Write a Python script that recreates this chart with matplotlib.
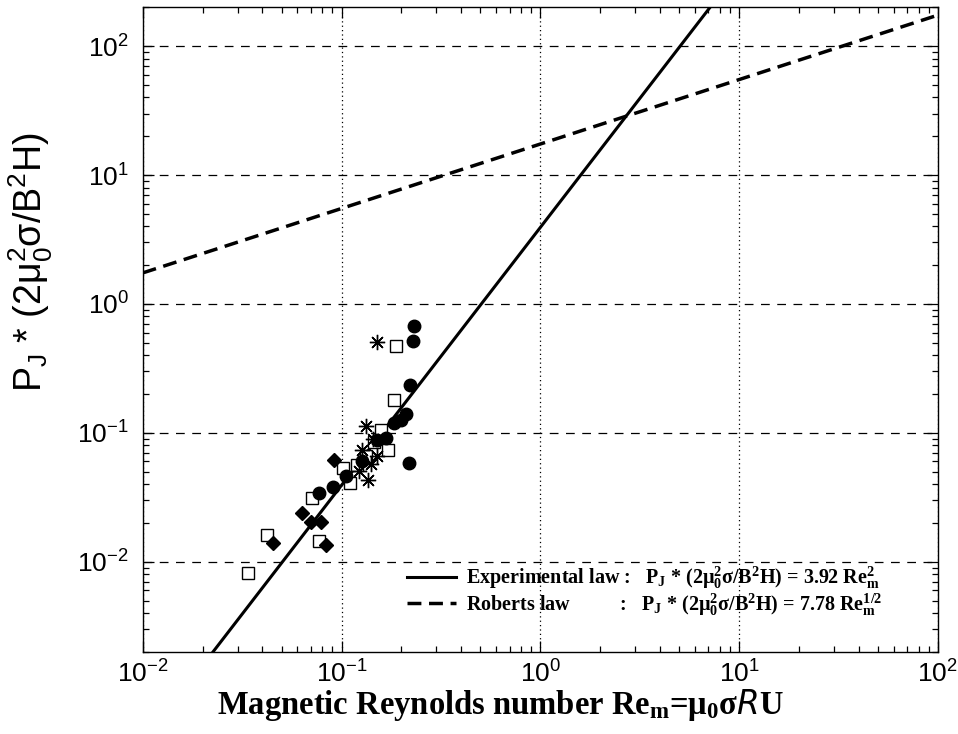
import numpy as np
import matplotlib
matplotlib.use('Agg')
from matplotlib import pyplot as plt

# data
circ_x = [0.232, 0.229, 0.220, 0.210, 0.200, 0.184, 0.218, 0.168, 0.150, 0.127, 0.105, 0.091, 0.077]
circ_y = [0.675, 0.520, 0.235, 0.140, 0.126, 0.120, 0.058, 0.091, 0.088, 0.060, 0.046, 0.038, 0.034]
sq_x = [0.034, 0.042, 0.071, 0.077, 0.188, 0.183, 0.172, 0.110, 0.119, 0.158, 0.146, 0.133, 0.102]
sq_y = [0.0082, 0.0162, 0.031, 0.0146, 0.47, 0.18, 0.074, 0.041, 0.056, 0.105, 0.085, 0.066, 0.053]
dia_x = [0.092, 0.063, 0.045, 0.070, 0.079, 0.084]
dia_y = [0.062, 0.024, 0.014, 0.0202, 0.0205, 0.0134]
ast_x = [0.151, 0.133, 0.127, 0.136, 0.140, 0.150, 0.122, 0.144]
ast_y = [0.507, 0.113, 0.074, 0.043, 0.057, 0.066, 0.051, 0.090]

exp_coef, exp_pow = 3.92, 2.0
rob_coef, rob_pow = 17.4, 0.5

x_lim = (1e-2, 1e2)
y_lim = (2e-3, 2e2)

plt.rcParams['mathtext.default'] = 'regular'


def main():
	fig = plt.figure(figsize=(9.58, 7.34), dpi=100)
	ax = fig.add_axes([0.149, 0.112, 0.830, 0.878])
	ax.set_xscale('log')
	ax.set_yscale('log')

	xx = np.logspace(-2, 2, 400)
	ax.plot(xx, exp_coef * xx ** exp_pow, 'k-', lw=2.2,
		label='Experimental law :   P$_J$ * (2μ$_0^2$σ/B$^2$H) = 3.92 Re$_m^2$')
	ax.plot(xx, rob_coef * xx ** rob_pow, 'k', ls=(0, (4, 2.2)), lw=2.5,
		label='Roberts law          :   P$_J$ * (2μ$_0^2$σ/B$^2$H) = 7.78 Re$_m^{1/2}$')

	ax.plot(sq_x, sq_y, 's', ms=9, mfc='white', mec='k', mew=1.0)
	ax.plot(circ_x, circ_y, 'o', ms=9, mfc='k', mec='k')
	ax.plot(dia_x, dia_y, 'D', ms=7, mfc='k', mec='k')
	ax.plot(ast_x, ast_y, marker=(8, 2, 0), ls='none', ms=11, mec='k', mew=1.0)

	ax.set_xlim(*x_lim)
	ax.set_ylim(*y_lim)
	ax.xaxis.grid(True, which='major', color='k', lw=0.9, linestyle=(0, (1, 2.5)))
	ax.yaxis.grid(True, which='major', color='k', lw=0.9, linestyle=(0, (7, 6)))
	ax.tick_params(which='both', direction='in', top=True, right=True, labelsize=19)
	ax.tick_params(axis='x', pad=6)
	ax.tick_params(axis='y', pad=10)
	ax.tick_params(which='major', length=8, width=0.9)
	ax.tick_params(which='minor', length=4, width=0.9)
	for lab in ax.get_xticklabels() + ax.get_yticklabels():
		lab.set_family('Liberation Sans')
	for s in ax.spines.values():
		s.set_linewidth(1.0)

	ax.set_xlabel('Magnetic Reynolds number Re$_m$=μ$_0$σ$\\it{R}$U', family='Liberation Serif',
		weight='bold', fontsize=23.5)
	ax.xaxis.set_label_coords(0.45, -0.055)
	ax.set_ylabel('P$_J$ * (2μ$_0^2$σ/B$^2$H)', family='Liberation Sans', fontsize=27)
	ax.yaxis.set_label_coords(-0.11, 0.605)

	ax.legend(loc='lower left', bbox_to_anchor=(0.31, 0.025), frameon=False, handlelength=2.4,
		handletextpad=0.5, labelspacing=0.0,
		prop={'family': 'Liberation Serif', 'weight': 'bold', 'size': 14.5})

	fig.savefig('out.png', dpi=100)
	plt.close()


if __name__ == '__main__':
	main()
